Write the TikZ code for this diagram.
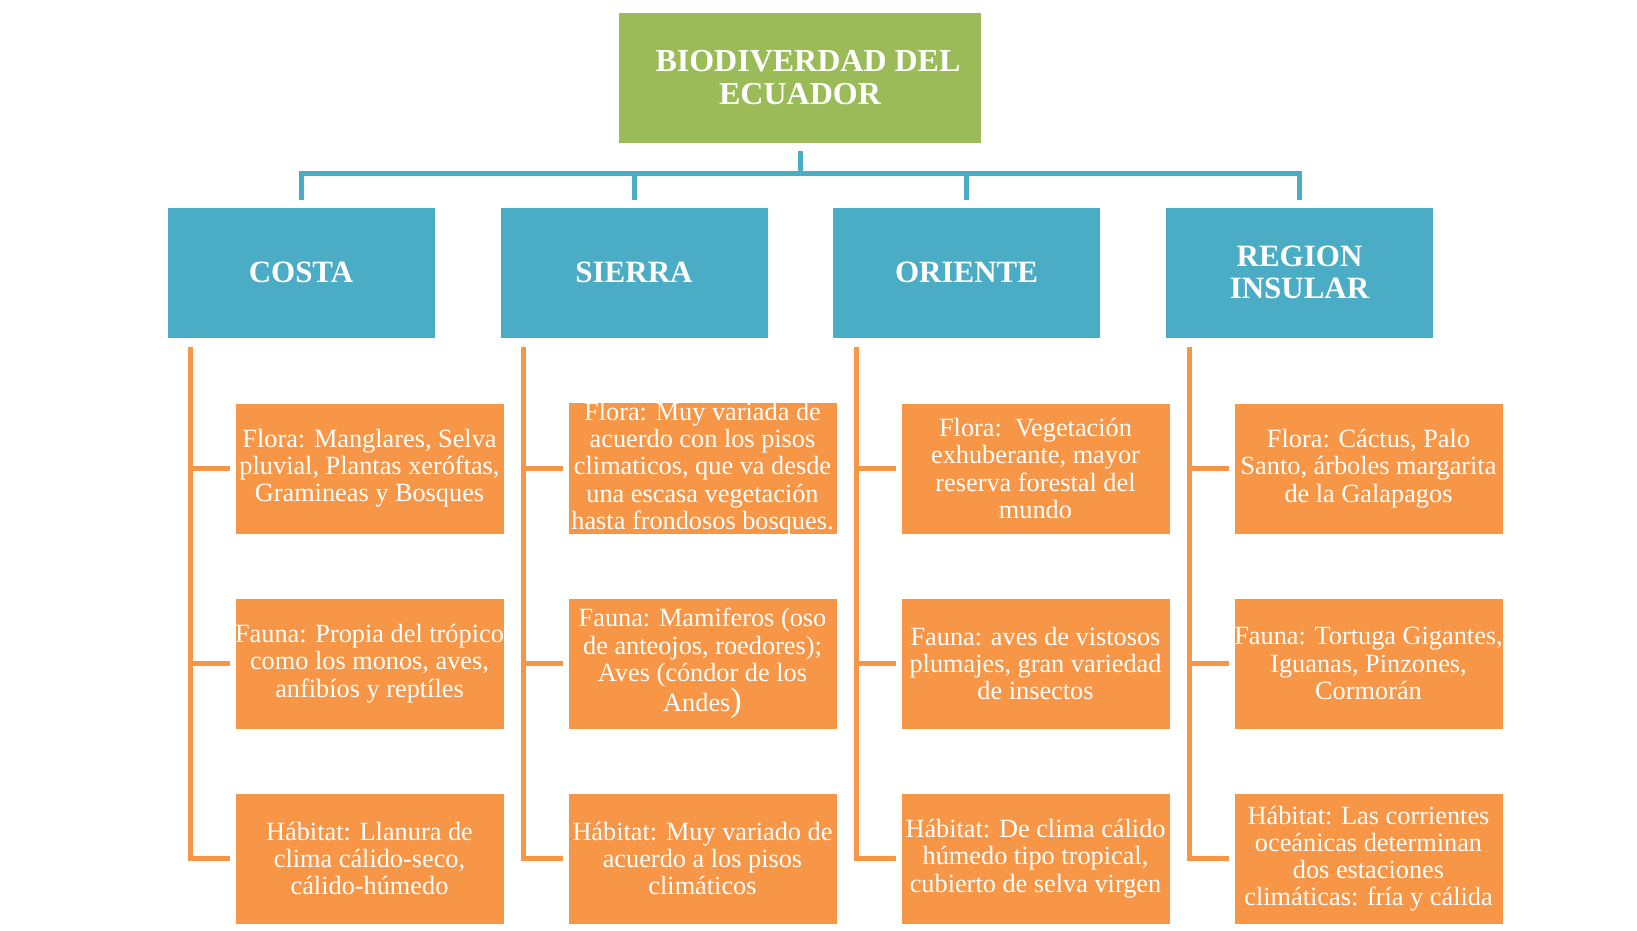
\documentclass[tikz,border=0pt]{standalone}
\usepackage{fontspec}
\setmainfont{Liberation Serif}
\definecolor{tgreen}{HTML}{9BBB59}
\definecolor{tblue}{HTML}{4BACC6}
\definecolor{torange}{HTML}{F79646}
\begin{document}
\begin{tikzpicture}[x=1pt,y=-1pt,
  titlebox/.style={fill=tgreen, draw=white, line width=1pt, minimum width=363pt, minimum height=131pt, inner sep=0pt, align=center, text=white, font=\fontsize{32}{33}\selectfont\bfseries},
  regbox/.style={fill=tblue, draw=white, line width=1pt, minimum width=268pt, minimum height=131pt, inner sep=0pt, align=center, text=white, font=\fontsize{31}{32.5}\selectfont\bfseries},
  itembox/.style={fill=torange, draw=white, line width=1pt, minimum width=269pt, minimum height=131pt, inner sep=0pt, align=center, text=white, font=\fontsize{26.3}{27.2}\selectfont},
  bline/.style={draw=tblue, line width=5pt},
  oline/.style={draw=torange, line width=5pt}]
\useasboundingbox (0,0) rectangle (1637,930);

\node[titlebox] (title) at (800,77.5) {\hspace*{16pt}BIODIVERDAD DEL\\ECUADOR};

\node[regbox] (costa) at (301,272.5) {COSTA};
\node[regbox] (sierra) at (634,272.5) {SIERRA};
\node[regbox] (oriente) at (966.5,272.5) {ORIENTE};
\node[regbox] (insular) at (1299.5,272.5) {REGION\\INSULAR};

\coordinate (hub) at (800,173);
\draw[bline] ([yshift=-7pt]title.south) -- (hub);
\foreach \r in {costa,sierra,oriente,insular}
  \draw[bline] ([yshift=7pt]\r.north) |- (hub);

% COSTA
\node[itembox] (c1) at (369.5,468.5) {Flora: Manglares, Selva\\pluvial, Plantas xeróftas,\\Gramineas y Bosques};
\node[itembox] (c2) at (369.5,663.5) {Fauna: Propia del trópico\\como los monos, aves,\\anfibíos y reptíles};
\node[itembox] (c3) at (369.5,858.5) {Hábitat: Llanura de\\clima cálido-seco,\\cálido-húmedo};
% SIERRA
\node[itembox] (s1) at (702.5,468.5) {Flora: Muy variada de\\acuerdo con los pisos\\climaticos, que va desde\\una escasa vegetación\\hasta frondosos bosques.};
\node[itembox] (s2) at (702.5,663.5) {Fauna: Mamiferos (oso\\de anteojos, roedores);\\Aves (cóndor de los\\Andes{\fontsize{34}{34}\selectfont )}};
\node[itembox] (s3) at (702.5,858.5) {Hábitat: Muy variado de\\acuerdo a los pisos\\climáticos};
% ORIENTE
\node[itembox] (o1) at (1035.5,468.5) {Flora:\ \ Vegetación\\exhuberante, mayor\\reserva forestal del\\mundo};
\node[itembox] (o2) at (1035.5,663.5) {Fauna: aves de vistosos\\plumajes, gran variedad\\de insectos};
\node[itembox] (o3) at (1035.5,858.5) {Hábitat: De clima cálido\\húmedo tipo tropical,\\cubierto de selva virgen};
% INSULAR
\node[itembox] (i1) at (1368.5,468.5) {Flora: Cáctus, Palo\\Santo, árboles margarita\\de la Galapagos};
\node[itembox] (i2) at (1368.5,663.5) {Fauna: Tortuga Gigantes,\\Iguanas, Pinzones,\\Cormorán};
\node[itembox] (i3) at (1368.5,858.5) {Hábitat: Las corrientes\\oceánicas determinan\\dos estaciones\\climáticas: fría y cálida};

\foreach \r/\a/\b/\c in {costa/c1/c2/c3, sierra/s1/s2/s3, oriente/o1/o2/o3, insular/i1/i2/i3}{
  \draw[oline] ([xshift=24pt,yshift=-8pt]\r.south west) |- ([xshift=-5pt]\a.west);
  \draw[oline] ([xshift=24pt,yshift=-8pt]\r.south west) |- ([xshift=-5pt]\b.west);
  \draw[oline] ([xshift=24pt,yshift=-8pt]\r.south west) |- ([xshift=-5pt]\c.west);
}
\end{tikzpicture}
\end{document}
